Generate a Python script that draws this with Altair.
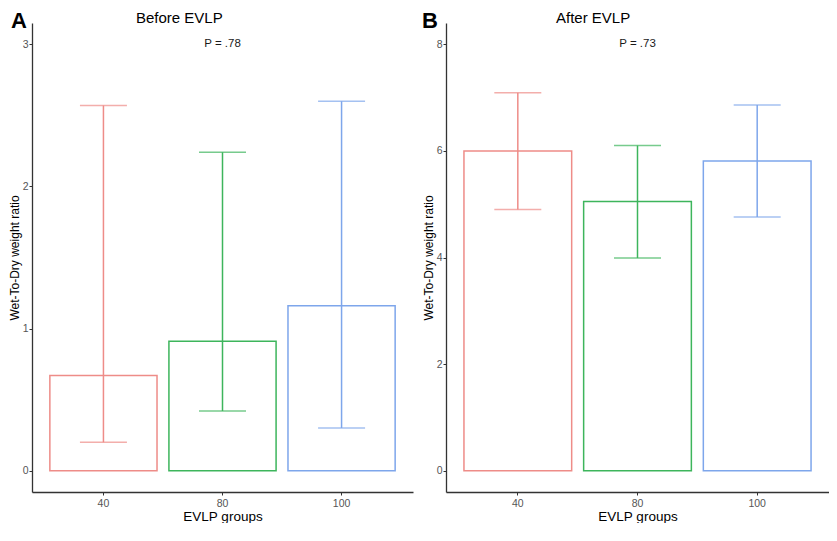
import altair as alt
import pandas as pd

groups = ["40", "80", "100"]
colors = ["#EE8C88", "#3DB55C", "#7EA6EB"]

before_mean = [0.67, 0.91, 1.16]
before_lo = [0.20, 0.42, 0.30]
before_hi = [2.57, 2.24, 2.60]

after_mean = [6.00, 5.05, 5.81]
after_lo = [4.90, 3.99, 4.76]
after_hi = [7.09, 6.10, 6.86]

FONT = "Liberation Sans"


def panel(mean, lo, hi, ymax, yticks, ptext, letter, title, width, height,
          letter_x, title_x):
    df = pd.DataFrame({"group": groups, "mean": mean, "lo": lo, "hi": hi})
    pdf = pd.DataFrame({"group": ["80"], "y": [ymax], "label": [ptext]})
    ldf = pd.DataFrame({"label": [letter], "title": [title]})

    pad = ymax * 0.05
    xenc = alt.X(
        "group:N",
        sort=groups,
        scale=alt.Scale(type="band", paddingInner=0.1, paddingOuter=0.15),
        axis=alt.Axis(title="EVLP groups", labelAngle=0),
    )
    yscale = alt.Scale(domain=[-pad, ymax + pad], nice=False, zero=False)
    cscale = alt.Scale(domain=groups, range=colors)

    bars = alt.Chart(df).mark_bar(fillOpacity=0, strokeWidth=1.5).encode(
        x=xenc,
        y=alt.Y("mean:Q", scale=yscale,
                axis=alt.Axis(title="Wet-To-Dry weight ratio", values=yticks,
                              format="d")),
        stroke=alt.Stroke("group:N", scale=cscale, legend=None),
    )
    rule = alt.Chart(df).mark_rule(strokeWidth=1.5).encode(
        x=alt.X("group:N", sort=groups),
        y=alt.Y("lo:Q"),
        y2="hi:Q",
        color=alt.Color("group:N", scale=cscale, legend=None),
    )
    tick_lo = alt.Chart(df).mark_tick(size=47, thickness=1.5).encode(
        x=alt.X("group:N", sort=groups),
        y=alt.Y("lo:Q"),
        color=alt.Color("group:N", scale=cscale, legend=None),
    )
    tick_hi = alt.Chart(df).mark_tick(size=47, thickness=1.5).encode(
        x=alt.X("group:N", sort=groups),
        y=alt.Y("hi:Q"),
        color=alt.Color("group:N", scale=cscale, legend=None),
    )
    ptxt = alt.Chart(pdf).mark_text(fontSize=11.5, font=FONT, color="#1a1a1a",
                                    baseline="middle").encode(
        x=alt.X("group:N", sort=groups),
        y=alt.Y("y:Q"),
        text="label:N",
    )
    letter_txt = alt.Chart(ldf).mark_text(fontSize=22, fontWeight="bold", font=FONT,
                                          color="black", align="left",
                                          baseline="top").encode(
        x=alt.value(letter_x),
        y=alt.value(-12),
        text="label:N",
    )
    title_txt = alt.Chart(ldf).mark_text(fontSize=15, font=FONT, color="black",
                                         align="left", baseline="top").encode(
        x=alt.value(title_x),
        y=alt.value(-12),
        text="title:N",
    )
    return alt.layer(bars, rule, tick_lo, tick_hi, ptxt, letter_txt,
                     title_txt).properties(width=width, height=height)


left = panel(before_mean, before_lo, before_hi, 3, [0, 1, 2, 3], "P = .78", "A",
             "Before EVLP", 381, 469, -21, 104)
right = panel(after_mean, after_lo, after_hi, 8, [0, 2, 4, 6, 8], "P = .73", "B",
              "After EVLP", 383, 469, -24, 110)

chart = alt.hconcat(left, right, spacing=9).properties(
    padding={"left": 0, "top": 2, "right": 0, "bottom": 0}
).configure_view(stroke=None).configure_axis(
    grid=False,
    domainColor="#333333",
    domainWidth=1.3,
    tickColor="#333333",
    tickSize=3,
    tickWidth=1,
    labelColor="#555555",
    labelFontSize=10.5,
    labelFont=FONT,
    titleFont=FONT,
    titleColor="black",
    titleFontWeight="normal",
).configure_axisY(
    titleFontSize=12, titlePadding=1, labelPadding=1
).configure_axisX(
    titleFontSize=13.5, titlePadding=1, labelPadding=3
)

chart.save("out.html", embed_options={"renderer": "svg", "actions": False})
